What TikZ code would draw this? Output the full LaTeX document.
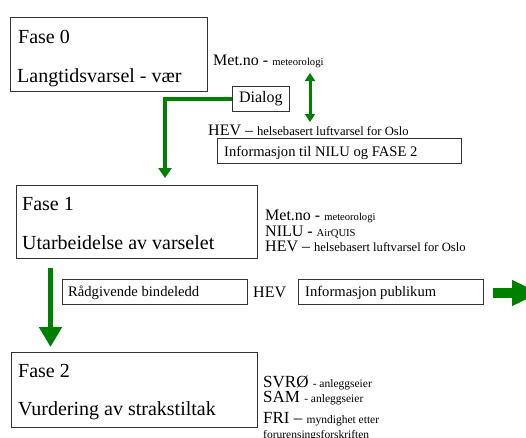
\documentclass[tikz,border=0pt]{standalone}
\usepackage{fontspec}
\setmainfont{Liberation Serif}
\usetikzlibrary{arrows.meta,calc}
\definecolor{dgreen}{RGB}{0,128,0}
\tikzset{
  box/.style={draw=black!80, line width=0.8pt, inner sep=0pt, anchor=north west},
  big/.style={anchor=base west, inner sep=0pt, font=\fontsize{20}{24}\selectfont},
  mid/.style={anchor=base west, inner sep=0pt, font=\fontsize{16}{18}\selectfont},
  mid2/.style={anchor=base west, inner sep=0pt, font=\fontsize{17}{19}\selectfont},
  lab/.style={anchor=base west, inner sep=0pt, font=\fontsize{14.6}{17}\selectfont},
  gline/.style={draw=dgreen, line width=4pt},
}
\newcommand{\sm}[1]{{\fontsize{10.6}{12}\selectfont #1}}
\newcommand{\smb}[1]{{\fontsize{12.6}{14}\selectfont #1}}
\newcommand{\smc}[1]{{\fontsize{11.5}{13}\selectfont #1}}
\begin{document}
\begin{tikzpicture}[x=1pt,y=-1pt]
\useasboundingbox (0,0) rectangle (526,437);
% Fase 0
\node[box, minimum width=197pt, minimum height=74pt] (f0) at (10,17) {};
\node[big] (f0a) at (18,43) {Fase 0};
\node[big] (f0b) at (17,82) {Langtidsvarsel - vær};
\node[mid] (met0) at (213,65) {Met.no - \sm{meteorologi}};
\node[box, minimum width=57pt, minimum height=25pt, font=\fontsize{16}{18}\selectfont] (dialog) at (232,86) {Dialog};
\node[mid] (hev0) at (208,135) {HEV -- \smb{helsebasert luftvarsel for Oslo}};
\node[box, minimum width=244pt, minimum height=25pt] (info0) at (217,138) {};
\node[lab] (info0t) at (224,156) {Informasjon til NILU og FASE 2};
% double arrow
\coordinate (da1) at (310,73);
\coordinate (da2) at (310,122);
\draw[draw=dgreen, line width=3pt, {Triangle[width=10pt,length=8pt]}-{Triangle[width=10pt,length=8pt]}] (da1) -- (da2);
% Fase 1
\node[box, minimum width=241pt, minimum height=73pt] (f1) at (16,185) {};
\node[big] (f1a) at (22,210) {Fase 1};
\node[big] (f1b) at (22,249) {Utarbeidelse av varselet};
\node[mid] (met1) at (265,220) {Met.no - \sm{meteorologi}};
\node[mid] (nilu1) at (265,236) {NILU - \sm{AirQUIS}};
\node[mid] (hev1) at (265,251) {HEV -- \smb{helsebasert luftvarsel for Oslo}};
% dialog connector
\coordinate (f1in) at (165,178);
\draw[gline, -{Triangle[width=13pt,length=10pt]}] (dialog.west) -| (f1in);
% middle row
\node[box, minimum width=185pt, minimum height=25pt] (rad) at (62,279) {};
\node[lab] (radt) at (68,296) {Rådgivende bindeledd};
\node[mid] (hevm) at (253,297) {HEV};
\node[box, minimum width=185pt, minimum height=25pt] (pub) at (298,279) {};
\node[lab] (pubt) at (305,296) {Informasjon publikum};
\coordinate (ra1) at (493,293);
\coordinate (ra2) at (540,293);
\draw[draw=dgreen, line width=10pt, -{Triangle[width=24pt,length=28pt]}] (ra1) -- (ra2);
% Fase 1 -> Fase 2
\coordinate (dn1) at (50.5,268);
\coordinate (dn2) at (50.5,347);
\draw[draw=dgreen, line width=5pt, -{Triangle[width=22pt,length=20pt]}] (dn1) -- (dn2);
% Fase 2
\node[box, minimum width=246pt, minimum height=75pt] (f2) at (11,352) {};
\node[big] (f2a) at (18,377) {Fase 2};
\node[big] (f2b) at (18,415) {Vurdering av strakstiltak};
\node[mid2] (svro) at (263,387) {SVRØ \smc{- anleggseier}};
\node[mid2] (sam) at (263,402) {SAM \smc{- anleggseier}};
\node[mid2] (fri) at (263,423) {FRI -- \smc{myndighet etter}};
\node[anchor=base west, inner sep=0pt, font=\fontsize{11.5}{13}\selectfont] (fri2) at (263,438) {forurensingsforskriften};
\end{tikzpicture}
\end{document}
